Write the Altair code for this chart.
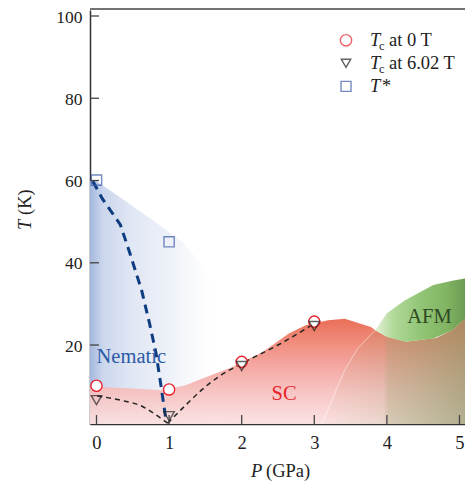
import altair as alt
import pandas as pd

# ---------------- data ----------------
P_MIN, P_MAX = -0.0895, 5.076
T_MIN, T_MAX = 0.8, 101.46

p_pts = [0, 1, 2, 3]
tc_0T = [10.1, 9.2, 15.9, 25.7]
tc_602T = [6.6, 2.7, 14.9, 24.6]
tstar_p = [0, 1]
tstar_t = [60.1, 45.1]

# nematic region (upper boundary)
nem_p = [-0.0895, 0.0, 0.32, 0.78, 1.19, 1.4, 1.6, 1.8]
nem_t = [60.0, 59.8, 56.0, 50.3, 45.0, 40.6, 36.0, 31.0]

# SC region (upper boundary)
sc_p = [-0.0895, 0.42, 0.91, 1.23, 1.39, 1.63, 1.84, 2.29, 2.65, 2.88, 3.19, 3.42,
        3.78, 3.84, 4.0, 4.27, 4.68, 4.9, 5.081]
sc_t = [9.9, 9.5, 9.0, 10.2, 11.4, 13.0, 14.4, 18.3, 22.8, 24.8, 26.0, 26.4,
        24.4, 23.6, 22.0, 20.8, 21.7, 23.6, 26.5]

# olive overlay below AFM (upper boundary)
ov_p = [3.1, 3.15, 3.3, 3.42, 3.6, 3.84, 4.0, 4.27, 4.68, 4.9, 5.081]
ov_t = [0.8, 2.6, 9.0, 13.9, 19.2, 23.6, 22.0, 20.8, 21.7, 23.6, 26.5]

# AFM region
afm_p = [3.84, 4.0, 4.25, 4.64, 4.9, 5.081]
afm_lo = [23.6, 22.0, 20.8, 21.6, 23.6, 26.5]
afm_hi = [23.6, 27.7, 30.9, 34.6, 35.6, 36.2]

# thin boundary line
bound_p = [3.1, 3.15, 3.3, 3.42, 3.6, 3.84]
bound_t = [0.8, 2.6, 9.0, 13.9, 19.2, 23.6]

# dashed guide lines
tstar_line_p = [-0.05, 0.08, 0.33, 0.46, 0.62, 0.73, 0.82, 0.89, 0.96]
tstar_line_t = [59.8, 55.6, 49.2, 42.3, 33.4, 25.3, 18.0, 9.9, 1.4]
tc_line1_p = [0.01, 0.33, 0.64, 0.82, 0.98]
tc_line1_t = [7.6, 6.6, 5.0, 3.0, 1.0]
tc_line2_p = [0.98, 1.23, 1.45, 1.7, 2.0, 2.5, 3.0]
tc_line2_t = [1.0, 5.4, 9.1, 12.5, 15.5, 20.0, 25.2]

x_ticks = [0, 1, 2, 3, 4, 5]
y_ticks = [20, 40, 60, 80, 100]

legend_p = 3.437
legend_text_p = 3.767
legend_t = [94.1, 88.5, 82.9]
legend_rest = ["at 0 T", "at 6.02 T"]

region_labels = ["Nematic", "SC", "AFM"]
region_p = [0.479, 2.583, 4.587]
region_t = [15.7, 6.6, 25.4]
region_colors = ["#2b5aa5", "#e8262c", "#2f4a25"]

SERIF = "Liberation Serif"
W, H = 375, 414


def X(field="P", axis=alt.Undefined):
    return alt.X(field, type="quantitative",
                 scale=alt.Scale(domain=[P_MIN, P_MAX], nice=False, zero=False),
                 axis=axis)


def Y(field="T", axis=alt.Undefined):
    return alt.Y(field, type="quantitative",
                 scale=alt.Scale(domain=[T_MIN, T_MAX], nice=False, zero=False),
                 axis=axis)


def grad_h(stops):
    return alt.Gradient(gradient="linear", x1=0, x2=1, y1=0, y2=0,
                        stops=[alt.GradientStop(color=c, offset=o) for o, c in stops])


def grad_v(stops):
    return alt.Gradient(gradient="linear", x1=0, x2=0, y1=0, y2=1,
                        stops=[alt.GradientStop(color=c, offset=o) for o, c in stops])


x_axis = alt.Axis(values=x_ticks, ticks=False, grid=False, title=None, format="d",
                  labelFont=SERIF, labelFontSize=18.5, labelColor="#222",
                  labelPadding=9, domainColor="#333", domainWidth=1.5)
y_axis = alt.Axis(values=y_ticks, ticks=False, grid=False, title=None, format="d",
                  labelFont=SERIF, labelFontSize=17.5, labelColor="#222",
                  labelPadding=8, labelOffset=1, domainColor="#333", domainWidth=1.5)

nem_df = pd.DataFrame({"P": nem_p, "T": nem_t})
nematic = alt.Chart(nem_df).mark_area(
    clip=True,
    color=grad_h([(0, "#a4b8df"), (0.096, "#ccd7ed"), (0.31, "#e1e7f4"),
                  (0.575, "#edf1f8"), (0.734, "#f8f9fc"), (0.89, "#ffffff"), (1, "#ffffff")]),
).encode(x=X(axis=x_axis), y=Y(axis=y_axis))

sc_df = pd.DataFrame({"P": sc_p, "T": sc_t})
sc = alt.Chart(sc_df).mark_area(
    clip=True, opacity=0.93,
    color=grad_v([(0, "#e8634a"), (0.25, "#f08878"), (0.47, "#f4a6a0"),
                  (0.67, "#f6c0be"), (1, "#fbe4e4")]),
).encode(x=X(), y=Y())

ov_df = pd.DataFrame({"P": ov_p, "T": ov_t})
overlay = alt.Chart(ov_df).mark_area(
    clip=True,
    color=grad_h([(0, "rgba(150,160,105,0)"), (0.43, "rgba(150,160,105,0.16)"),
                  (0.465, "rgba(150,160,105,0.36)"), (1, "rgba(140,150,100,0.66)")]),
).encode(x=X(), y=Y())

bound_df = pd.DataFrame({"P": bound_p, "T": bound_t})
boundary = alt.Chart(bound_df).mark_line(
    clip=True, color="#ffffff", strokeWidth=0.8, opacity=0.6
).encode(x=X(), y=Y())

afm_df = pd.DataFrame({"P": afm_p, "lo": afm_lo, "hi": afm_hi})
afm = alt.Chart(afm_df).mark_area(
    clip=True,
    color=grad_h([(0, "#e2f1d8"), (0.2, "#b2d99a"), (0.5, "#92c576"),
                  (0.8, "#80b362"), (1, "#6c9a52")]),
).encode(x=X(), y=Y("lo"), y2="hi")

tstar_line = alt.Chart(pd.DataFrame({"P": tstar_line_p, "T": tstar_line_t})).mark_line(
    clip=True, color="#0e3c80", strokeWidth=3, strokeDash=[9, 6]
).encode(x=X(), y=Y())

tc_line1 = alt.Chart(pd.DataFrame({"P": tc_line1_p, "T": tc_line1_t})).mark_line(
    clip=True, color="#222", strokeWidth=1.5, strokeDash=[5, 4], interpolate="monotone"
).encode(x=X(), y=Y())
tc_line2 = alt.Chart(pd.DataFrame({"P": tc_line2_p, "T": tc_line2_t})).mark_line(
    clip=True, color="#222", strokeWidth=1.5, strokeDash=[5, 4], interpolate="monotone"
).encode(x=X(), y=Y())

pts_df = pd.DataFrame({"P": p_pts, "tc0": tc_0T, "tc6": tc_602T})
circles = alt.Chart(pts_df).mark_point(
    shape="circle", size=125, filled=False, fill="white", fillOpacity=1,
    stroke="#e8202a", strokeWidth=1.4
).encode(x=X(), y=Y("tc0"))
triangles = alt.Chart(pts_df).mark_point(
    shape="triangle-down", size=110, filled=False, stroke="#222", strokeWidth=1.4
).encode(x=X(), y=Y("tc6"))
squares = alt.Chart(pd.DataFrame({"P": tstar_p, "T": tstar_t})).mark_point(
    shape="square", size=105, filled=False, stroke="#3a5aa8", strokeWidth=1.4
).encode(x=X(), y=Y())

# tick marks pointing inward
xt = alt.Chart(pd.DataFrame({"P": x_ticks})).mark_rule(color="#444", strokeWidth=1.3).encode(
    x=X(), y=alt.value(H), y2=alt.value(H - 9))
yt = alt.Chart(pd.DataFrame({"T": y_ticks})).mark_rule(color="#444", strokeWidth=1.3).encode(
    y=Y(), x=alt.value(0), x2=alt.value(9))
top_frame = alt.Chart(pd.DataFrame({"a": [0]})).mark_rule(color="#444", strokeWidth=1.5).encode(
    x=alt.value(0), x2=alt.value(W), y=alt.value(-1))

# region labels
lab_df = pd.DataFrame({"P": region_p, "T": region_t, "label": region_labels, "c": region_colors})
labels = alt.Chart(lab_df).mark_text(
    font=SERIF, fontSize=20.5, baseline="alphabetic", align="center"
).encode(x=X(), y=Y(), text="label:N", color=alt.Color("c:N", scale=None))

# legend
leg_sym = pd.DataFrame({"P": [legend_p] * 3, "T": legend_t})
leg_c = alt.Chart(leg_sym.iloc[[0]]).mark_point(
    shape="circle", size=128, filled=False, stroke="#e8202a", strokeWidth=1.4).encode(x=X(), y=Y())
leg_t = alt.Chart(leg_sym.iloc[[1]]).mark_point(
    shape="triangle-down", size=90, filled=False, stroke="#222", strokeWidth=1.4).encode(x=X(), y=Y())
leg_s = alt.Chart(leg_sym.iloc[[2]]).mark_point(
    shape="square", size=100, filled=False, stroke="#3a5aa8", strokeWidth=1.4).encode(x=X(), y=Y())

leg_txt = pd.DataFrame({"P": [legend_text_p] * 3, "T": legend_t})
leg_T = alt.Chart(leg_txt).mark_text(
    font=SERIF, fontSize=18.5, fontStyle="italic", align="left", baseline="alphabetic",
    dy=6, color="#222"
).encode(x=X(), y=Y(), text=alt.value("T"))
leg_sub = alt.Chart(leg_txt.iloc[[0, 1]]).mark_text(
    font=SERIF, fontSize=12.5, align="left", baseline="alphabetic", dx=9, dy=10, color="#222"
).encode(x=X(), y=Y(), text=alt.value("c"))
leg_rest1 = alt.Chart(pd.DataFrame({"P": [legend_text_p] * 2, "T": legend_t[:2],
                                    "s": legend_rest})).mark_text(
    font=SERIF, fontSize=18.5, align="left", baseline="alphabetic", color="#222", dx=19, dy=6
).encode(x=X(), y=Y(), text="s:N")
leg_star = alt.Chart(pd.DataFrame({"P": [legend_text_p], "T": legend_t[2:]})).mark_text(
    font=SERIF, fontSize=18.5, fontStyle="italic", align="left", baseline="alphabetic",
    color="#222", dx=11, dy=6
).encode(x=X(), y=Y(), text=alt.value("*"))

# axis titles (italic symbol + roman unit)
one = pd.DataFrame({"a": [0]})
xt_P = alt.Chart(one).mark_text(font=SERIF, fontSize=18.5, fontStyle="italic", align="left",
                                baseline="alphabetic", color="#222").encode(
    x=alt.value(161), y=alt.value(467), text=alt.value("P"))
xt_u = alt.Chart(one).mark_text(font=SERIF, fontSize=18.5, align="left",
                                baseline="alphabetic", color="#222").encode(
    x=alt.value(176), y=alt.value(467), text=alt.value("(GPa)"))
yt_T = alt.Chart(one).mark_text(font=SERIF, fontSize=18.5, fontStyle="italic", align="left",
                                baseline="alphabetic", angle=270, color="#222").encode(
    x=alt.value(-59), y=alt.value(220), text=alt.value("T"))
yt_u = alt.Chart(one).mark_text(font=SERIF, fontSize=18.5, align="left",
                                baseline="alphabetic", angle=270, color="#222").encode(
    x=alt.value(-59), y=alt.value(205), text=alt.value("(K)"))

chart = alt.layer(
    nematic, sc, overlay, boundary, afm,
    tstar_line, tc_line1, tc_line2,
    circles, triangles, squares,
    xt, yt, top_frame,
    labels,
    leg_c, leg_t, leg_s, leg_T, leg_sub, leg_rest1, leg_star,
    xt_P, xt_u, yt_T, yt_u,
).properties(
    width=W, height=H,
    autosize=alt.AutoSizeParams(type="none"),
    padding={"left": 82, "top": 2, "right": 0, "bottom": 57},
).configure_view(stroke=None)

chart.save("out.html", embed_options={"renderer": "svg", "actions": False})
